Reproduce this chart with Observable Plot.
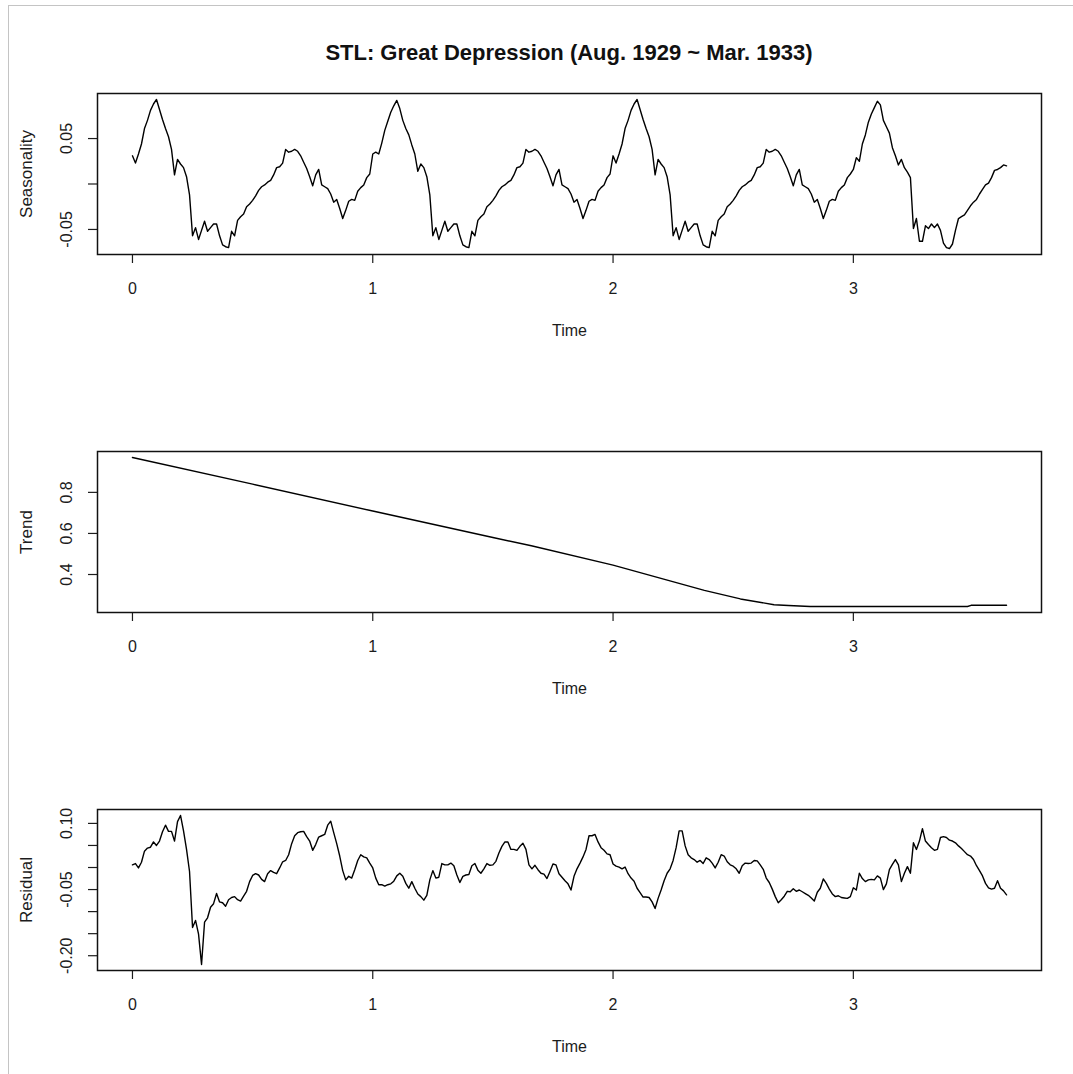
<!DOCTYPE html>
<html>
<head>
<meta charset="utf-8">
<script src="https://cdn.jsdelivr.net/npm/d3@7"></script>
<script src="https://cdn.jsdelivr.net/npm/@observablehq/plot@0.6"></script>
<style>
  html, body { margin: 0; padding: 0; background: #ffffff; }
  #wrap { position: relative; width: 1073px; height: 1074px; overflow: hidden; background: #ffffff;
          font-family: "Liberation Sans", Arial, sans-serif; }
  #border { position: absolute; left: 8px; top: 5px; width: 1200px; height: 1200px;
            border-left: 1.5px solid #c4c4c4; border-top: 1.5px solid #c4c4c4; }
  #title { position: absolute; left: 97px; top: 42px; width: 944px; text-align: center;
           font-size: 22px; line-height: 22px; font-weight: bold; color: #111; white-space: nowrap; }
  .panel { position: absolute; left: 0; }
</style>
</head>
<body>
<div id="wrap">
  <div id="border"></div>
  <div id="title"></div>
</div>
<script>
// ---------------- data ----------------
const title = "STL: Great Depression (Aug. 1929 ~ Mar. 1933)";
const panelNames = ["Seasonality", "Trend", "Residual"];
const xLabel = "Time";
const freq = 80; // observations per unit of Time (ts frequency)

// seasonal component, one value per observation
const seasonal = [
  // year 0-1
  0.031,0.023,0.033,0.044,0.061,0.070,0.081,0.088,0.093,0.082,
  0.071,0.061,0.052,0.038,0.010,0.027,0.022,0.018,0.008,-0.012,
  -0.057,-0.048,-0.061,-0.051,-0.041,-0.052,-0.048,-0.044,-0.044,-0.057,
  -0.067,-0.069,-0.070,-0.052,-0.057,-0.040,-0.036,-0.033,-0.025,-0.022,
  -0.018,-0.013,-0.007,-0.003,-0.001,0.002,0.004,0.010,0.018,0.019,
  0.023,0.038,0.035,0.036,0.038,0.036,0.031,0.024,0.017,0.008,
  -0.002,0.010,0.016,-0.001,-0.003,-0.005,-0.011,-0.020,-0.017,-0.027,
  -0.038,-0.029,-0.019,-0.017,-0.018,-0.008,-0.004,-0.001,0.007,0.011,
  // year 1-2
  0.033,0.035,0.033,0.045,0.059,0.069,0.079,0.086,0.092,0.083,
  0.070,0.061,0.054,0.043,0.033,0.014,0.022,0.018,0.008,-0.012,
  -0.057,-0.048,-0.061,-0.051,-0.041,-0.052,-0.048,-0.044,-0.044,-0.057,
  -0.067,-0.069,-0.070,-0.052,-0.057,-0.040,-0.036,-0.033,-0.025,-0.022,
  -0.018,-0.013,-0.007,-0.003,-0.001,0.002,0.004,0.010,0.018,0.019,
  0.023,0.038,0.035,0.036,0.038,0.036,0.031,0.024,0.017,0.008,
  -0.002,0.010,0.016,-0.001,-0.003,-0.005,-0.011,-0.020,-0.017,-0.027,
  -0.038,-0.029,-0.019,-0.017,-0.018,-0.008,-0.004,-0.001,0.007,0.011,
  // year 2-3
  0.031,0.023,0.033,0.044,0.061,0.070,0.081,0.088,0.093,0.082,
  0.071,0.061,0.052,0.038,0.010,0.027,0.022,0.018,0.008,-0.012,
  -0.057,-0.048,-0.061,-0.051,-0.041,-0.052,-0.048,-0.044,-0.044,-0.057,
  -0.067,-0.069,-0.070,-0.052,-0.057,-0.040,-0.036,-0.033,-0.025,-0.022,
  -0.018,-0.013,-0.007,-0.003,-0.001,0.002,0.004,0.010,0.018,0.019,
  0.023,0.038,0.035,0.036,0.038,0.036,0.031,0.024,0.017,0.008,
  -0.002,0.010,0.016,-0.001,-0.003,-0.005,-0.011,-0.020,-0.017,-0.027,
  -0.038,-0.029,-0.019,-0.017,-0.018,-0.008,-0.004,-0.001,0.007,0.011,
  // year 3-end
  0.016,0.029,0.025,0.044,0.054,0.068,0.077,0.084,0.091,0.087,
  0.070,0.063,0.056,0.040,0.031,0.021,0.027,0.018,0.013,0.007,
  -0.049,-0.038,-0.063,-0.063,-0.046,-0.049,-0.044,-0.048,-0.044,-0.051,
  -0.065,-0.070,-0.071,-0.066,-0.051,-0.038,-0.036,-0.034,-0.029,-0.024,
  -0.020,-0.017,-0.011,-0.006,-0.001,0.001,0.007,0.015,0.016,0.018,
  0.021,0.020
];

// trend component (smooth; read at its bends)
const trendTime  = [0, 0.5, 1.0, 1.5, 1.66, 2.0, 2.38, 2.53, 2.67, 2.73, 2.82, 3.475, 3.49, 3.6375];
const trendValue = [0.970, 0.840, 0.709, 0.580, 0.540, 0.446, 0.323, 0.281, 0.253, 0.249, 0.244, 0.244, 0.250, 0.250];

// remainder component, one value per observation
const residual = [
  0.006,0.009,-0.001,0.012,0.037,0.044,0.046,0.058,0.050,0.060,
  0.081,0.096,0.082,0.082,0.060,0.104,0.118,0.083,0.041,-0.009,
  -0.136,-0.120,-0.151,-0.220,-0.124,-0.114,-0.090,-0.082,-0.059,-0.078,
  -0.080,-0.088,-0.073,-0.068,-0.066,-0.073,-0.076,-0.065,-0.054,-0.032,
  -0.018,-0.014,-0.017,-0.027,-0.032,-0.014,-0.007,-0.011,-0.014,-0.001,
  0.013,0.016,0.029,0.054,0.072,0.079,0.081,0.082,0.070,0.060,
  0.039,0.052,0.069,0.072,0.075,0.096,0.105,0.079,0.054,0.026,
  -0.007,-0.028,-0.020,-0.024,-0.005,0.016,0.029,0.024,0.022,0.010,
  -0.001,-0.024,-0.039,-0.039,-0.042,-0.039,-0.037,-0.031,-0.019,-0.013,
  -0.020,-0.036,-0.047,-0.032,-0.047,-0.060,-0.066,-0.074,-0.063,-0.028,
  -0.007,-0.024,-0.022,0.009,0.006,0.006,0.010,0.004,-0.017,-0.034,
  -0.020,-0.017,-0.016,0.004,0.009,-0.006,-0.013,-0.003,0.009,0.005,
  0.006,0.014,0.033,0.048,0.058,0.058,0.041,0.041,0.039,0.048,
  0.055,0.041,0.006,-0.003,0.005,-0.005,-0.013,-0.015,-0.025,-0.009,
  0.008,0.006,-0.014,-0.022,-0.030,-0.037,-0.051,-0.020,-0.003,0.010,
  0.024,0.041,0.072,0.072,0.075,0.058,0.045,0.039,0.031,0.029,
  0.008,0.003,0.001,-0.003,0.001,-0.014,-0.024,-0.031,-0.047,-0.057,
  -0.067,-0.067,-0.068,-0.078,-0.093,-0.070,-0.051,-0.030,-0.013,-0.003,
  0.016,0.045,0.083,0.083,0.049,0.029,0.022,0.018,0.012,0.016,
  0.009,0.022,0.018,0.010,-0.001,0.012,0.029,0.026,0.013,0.006,
  0.003,-0.003,-0.013,0.004,0.010,0.009,0.010,0.016,0.015,0.006,
  -0.004,-0.024,-0.034,-0.049,-0.066,-0.080,-0.073,-0.065,-0.054,-0.055,
  -0.048,-0.054,-0.051,-0.055,-0.059,-0.063,-0.069,-0.076,-0.056,-0.047,
  -0.026,-0.036,-0.049,-0.060,-0.066,-0.064,-0.068,-0.069,-0.070,-0.066,
  -0.046,-0.051,-0.013,-0.025,-0.032,-0.028,-0.027,-0.028,-0.019,-0.024,
  -0.050,-0.037,-0.005,0.007,0.018,0.006,-0.032,-0.013,0.002,-0.013,
  0.056,0.041,0.060,0.088,0.060,0.052,0.045,0.039,0.041,0.068,
  0.070,0.068,0.062,0.060,0.056,0.049,0.043,0.036,0.029,0.026,
  0.018,0.004,-0.007,-0.019,-0.036,-0.046,-0.049,-0.047,-0.030,-0.047,
  -0.053,-0.062
];

// axis ticks and their printed labels (R drops labels that would overlap)
const xTicks = [0, 1, 2, 3];
const xTickLabels = ["0", "1", "2", "3"];
const seasTicks = [-0.05, 0, 0.05];
const seasTickLabels = ["-0.05", "", "0.05"];
const trendTicks = [0.4, 0.6, 0.8];
const trendTickLabels = ["0.4", "0.6", "0.8"];
const residTicks = [-0.20, -0.15, -0.10, -0.05, 0, 0.05, 0.10];
const residTickLabels = ["-0.20", "", "", "-0.05", "", "", "0.10"];

// ---------------- drawing ----------------
const FONT = '"Liberation Sans", Arial, sans-serif';
const pad = ([lo, hi]) => [lo - 0.04 * (hi - lo), hi + 0.04 * (hi - lo)];

const seasData = seasonal.map((v, i) => ({t: i / freq, v}));
const trendData = trendTime.map((t, i) => ({t, v: trendValue[i]}));
const residData = residual.map((v, i) => ({t: i / freq, v}));
const xDomain = pad([0, (seasonal.length - 1) / freq]);

function panel(data, yTicks, yTickLabels, yName) {
  return Plot.plot({
    width: 1073, height: 358,
    marginTop: 93, marginBottom: 104, marginLeft: 97, marginRight: 32,
    style: {fontFamily: FONT, fontSize: "16px", color: "#1c1c1c", background: "transparent", overflow: "visible"},
    x: {domain: xDomain},
    y: {domain: pad(d3.extent(data, d => d.v))},
    marks: [
      Plot.axisX({ticks: xTicks, tickFormat: d => xTickLabels[xTicks.indexOf(d)], tickSize: 9, tickPadding: 19,
                  label: null, fontSize: 16, strokeWidth: 1.2}),
      Plot.axisY({ticks: yTicks, tickFormat: d => yTickLabels[yTicks.indexOf(d)], tickSize: 9, tickPadding: 17,
                  tickRotate: -90, label: null, fontSize: 16, strokeWidth: 1.2}),
      Plot.text([xLabel], {text: d => d, frameAnchor: "bottom", lineAnchor: "middle", textAnchor: "middle",
                           dy: 76, fontSize: 16, fill: "#1c1c1c"}),
      Plot.text([yName], {text: d => d, frameAnchor: "left", lineAnchor: "middle", textAnchor: "middle",
                          dx: -71, rotate: -90, fontSize: 17, fill: "#1c1c1c"}),
      Plot.line(data, {x: "t", y: "v", stroke: "#000", strokeWidth: 1.4}),
      Plot.frame({stroke: "#111", strokeWidth: 1.5})
    ]
  });
}

document.getElementById("title").textContent = title;
const wrap = document.getElementById("wrap");
const panels = [
  panel(seasData, seasTicks, seasTickLabels, panelNames[0]),
  panel(trendData, trendTicks, trendTickLabels, panelNames[1]),
  panel(residData, residTicks, residTickLabels, panelNames[2])
];
const tops = [0, 358, 716];
panels.forEach((svg, k) => {
  svg.classList.add("panel");
  svg.style.top = tops[k] + "px";
  wrap.appendChild(svg);
});
</script>
</body>
</html>
